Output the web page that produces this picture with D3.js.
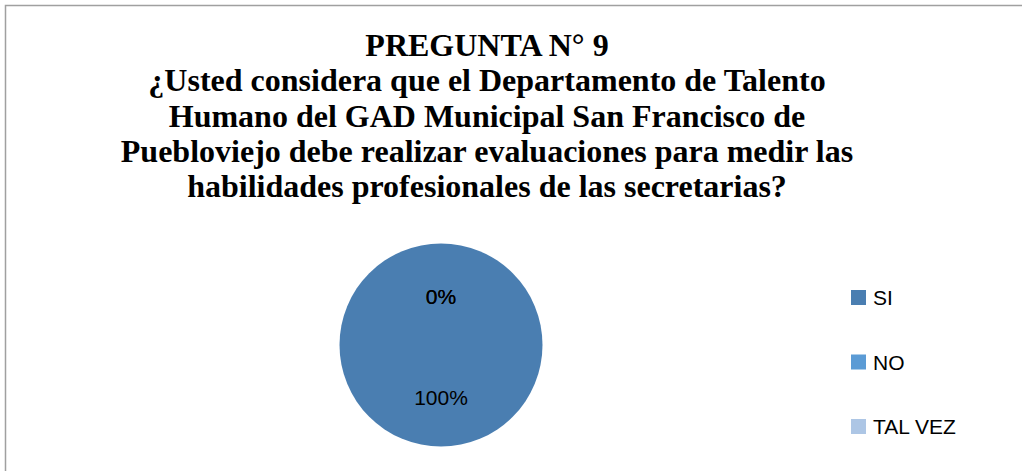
<!DOCTYPE html>
<html>
<head>
<meta charset="utf-8">
<script src="https://cdn.jsdelivr.net/npm/d3@7"></script>
<style>
	body { margin: 0; background: #fff; }
	svg { display: block; }
</style>
</head>
<body>
<div id="chart"></div>
<script>
// Pregunta 9 pie chart

var categories = ['SI', 'NO', 'TAL VEZ'];
var values = [100, 0, 0];
var colors = ['#4a7eb1', '#5b9bd5', '#adc6e5'];
var titleLines = [
	'PREGUNTA N° 9',
	'¿Usted considera que el Departamento de Talento',
	'Humano del GAD Municipal San Francisco de',
	'Puebloviejo debe realizar evaluaciones para medir las',
	'habilidades profesionales de las secretarias?'
];

var width = 1022,
	height = 471,
	radius = 101.5,
	cx = 441,
	cy = 345;

var data = categories.map(function(c, i) { return {key: c, value: values[i]}; });
var total = d3.sum(values);

var color = d3.scaleOrdinal()
	.domain(categories)
	.range(colors);

var svg = d3.select('#chart').append('svg')
	.attr('width', width)
	.attr('height', height);

// chart area border (runs off the right and bottom edges)
svg.append('rect')
	.attr('x', 5.5)
	.attr('y', 5.5)
	.attr('width', width + 20)
	.attr('height', height + 20)
	.attr('fill', '#fff')
	.attr('stroke', '#a0a0a0')
	.attr('stroke-width', 1.5);

// Title
svg.append('g').selectAll('text')
	.data(titleLines)
	.enter().append('text')
	.attr('x', 487)
	.attr('y', function(d, i) { return 56 + i * 35.3; })
	.attr('text-anchor', 'middle')
	.style('font-family', '"Liberation Serif", "Times New Roman", serif')
	.style('font-weight', 'bold')
	.style('font-size', '32px')
	.style('fill', '#000')
	.text(function(d) { return d; });

var pie = d3.pie()
	.value(function(d) { return d.value; })
	.sort(null);

var arc = d3.arc()
	.innerRadius(0)
	.outerRadius(radius);

var g = svg.append('g')
	.attr('transform', 'translate(' + cx + ',' + cy + ')');

var arcs = pie(data);

g.selectAll('path')
	.data(arcs)
	.enter().append('path')
	.attr('d', arc)
	.attr('fill', function(d) { return color(d.data.key); });

// Slice labels
g.selectAll('text')
	.data(arcs)
	.enter().append('text')
	.attr('transform', function(d) {
		var c = arc.centroid(d);
		return 'translate(' + c[0] + ',' + (c[1] + 2) + ')';
	})
	.attr('text-anchor', 'middle')
	.attr('dy', '0.35em')
	.style('font-family', '"Liberation Sans", Arial, sans-serif')
	.style('font-size', '21px')
	.style('fill', '#000')
	.text(function(d) { return Math.round(d.data.value / total * 100) + '%'; });

// Legend
var legend = svg.append('g')
	.attr('transform', 'translate(851,290)');

var item = legend.selectAll('g')
	.data(categories)
	.enter().append('g')
	.attr('transform', function(d, i) { return 'translate(0,' + (i * 64.5) + ')'; });

item.append('rect')
	.attr('width', 15)
	.attr('height', 15)
	.attr('fill', function(d) { return color(d); });

item.append('text')
	.attr('x', 22)
	.attr('y', 15)
	.style('font-family', '"Liberation Sans", Arial, sans-serif')
	.style('font-size', '21px')
	.style('fill', '#000')
	.text(function(d) { return d; });
</script>
</body>
</html>
